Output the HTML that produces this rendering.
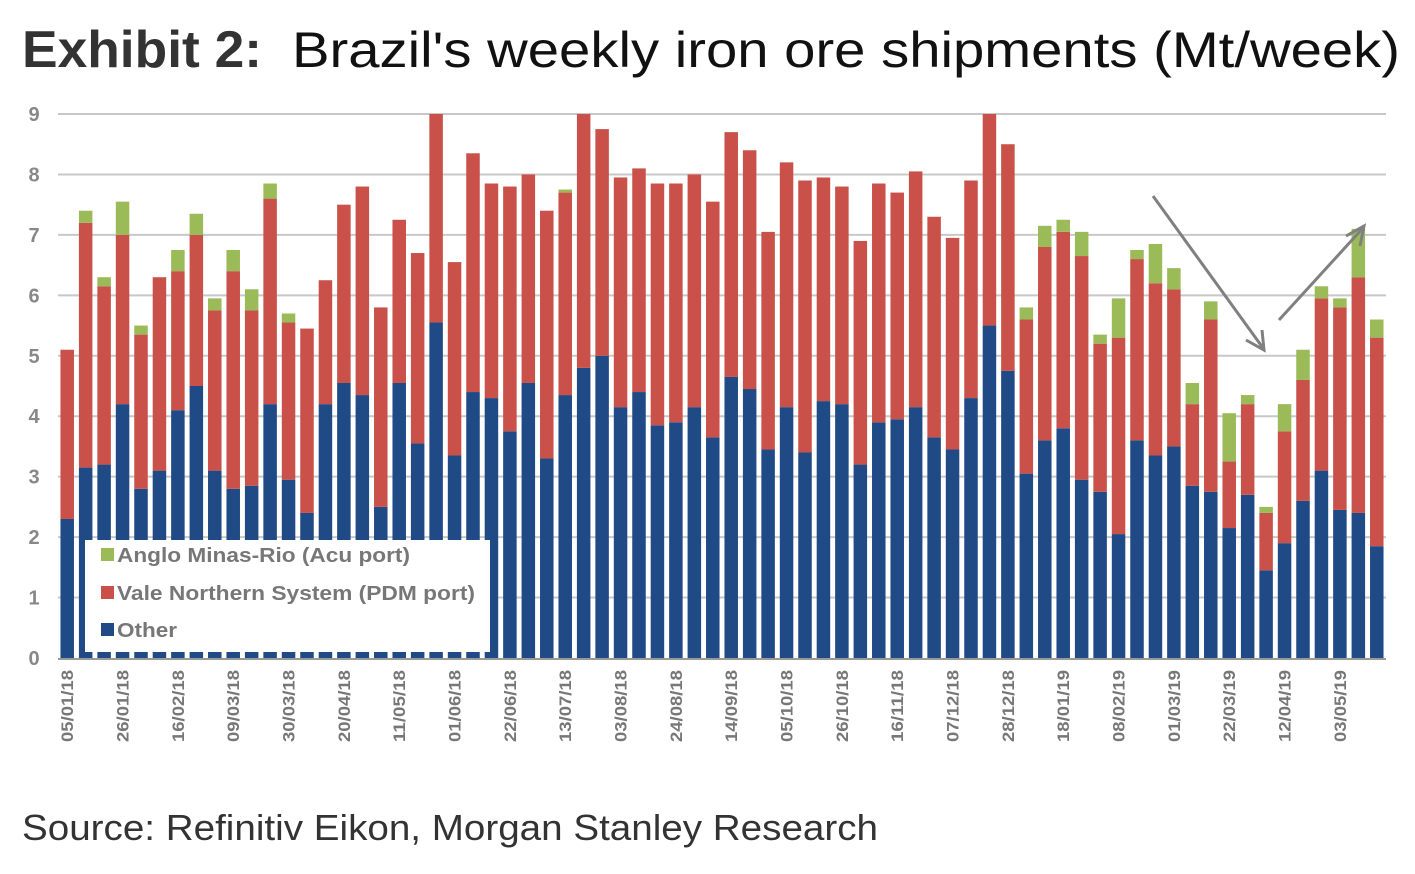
<!DOCTYPE html>
<html><head><meta charset="utf-8"><style>
body{margin:0;background:#fff;}
svg{display:block;font-family:"Liberation Sans",sans-serif;}
</style></head><body>
<svg id="chart" width="1415" height="874" viewBox="0 0 1415 874">
<text x="22" y="67" font-size="52" font-weight="bold" fill="#333" textLength="240" lengthAdjust="spacingAndGlyphs">Exhibit 2:</text>
<text x="292" y="67" font-size="50" fill="#111" textLength="1108" lengthAdjust="spacingAndGlyphs">Brazil's weekly iron ore shipments (Mt/week)</text>
<g id="grid"></g><g id="bars"></g><g id="xlabels"></g><g id="ylabels"></g>
<line x1="58" y1="659" x2="1386" y2="659" stroke="#999" stroke-width="2"/>
<g>
<rect x="85" y="540" width="405" height="112" fill="#fff"/>
<rect x="101" y="548" width="13" height="13" fill="#9bbb59"/>
<text x="117" y="562" font-size="20" font-weight="bold" fill="#777" textLength="293" lengthAdjust="spacingAndGlyphs">Anglo Minas-Rio (Acu port)</text>
<rect x="101" y="586" width="13" height="13" fill="#c9514a"/>
<text x="117" y="600" font-size="20" font-weight="bold" fill="#777" textLength="358" lengthAdjust="spacingAndGlyphs">Vale Northern System (PDM port)</text>
<rect x="101" y="623" width="13" height="13" fill="#1f4a86"/>
<text x="117" y="637" font-size="20" font-weight="bold" fill="#777" textLength="60" lengthAdjust="spacingAndGlyphs">Other</text>
</g>
<g stroke="#808080" stroke-width="3" fill="none">
<line x1="1153" y1="196" x2="1263" y2="348"/>
<polyline points="1246,340 1264,350 1262,330"/>
<line x1="1279" y1="320" x2="1363" y2="228"/>
<polyline points="1346,236 1364,226 1360,246"/>
</g>
<text x="22" y="840" font-size="36" fill="#333" textLength="856" lengthAdjust="spacingAndGlyphs">Source: Refinitiv Eikon, Morgan Stanley Research</text>
</svg>
<script>
const other=[2.3,3.15,3.2,4.2,2.8,3.1,4.1,4.5,3.1,2.8,2.85,4.2,2.95,2.4,4.2,4.55,4.35,2.5,4.55,3.55,5.55,3.35,4.4,4.3,3.75,4.55,3.3,4.35,4.8,5.0,4.15,4.4,3.85,3.9,4.15,3.65,4.65,4.45,3.45,4.15,3.4,4.25,4.2,3.2,3.9,3.95,4.15,3.65,3.45,4.3,5.5,4.75,3.05,3.6,3.8,2.95,2.75,2.05,3.6,3.35,3.5,2.85,2.75,2.15,2.7,1.45,1.9,2.6,3.1,2.45,2.4,1.85];
const vale=[2.8,4.05,2.95,2.8,2.55,3.2,2.3,2.5,2.65,3.6,2.9,3.4,2.6,3.05,2.05,2.95,3.45,3.3,2.7,3.15,3.45,3.2,3.95,3.55,4.05,3.45,4.1,3.35,4.2,3.75,3.8,3.7,4.0,3.95,3.85,3.9,4.05,3.95,3.6,4.05,4.5,3.7,3.6,3.7,3.95,3.75,3.9,3.65,3.5,3.6,3.5,3.75,2.55,3.2,3.25,3.7,2.45,3.25,3.0,2.85,2.6,1.35,2.85,1.1,1.5,0.95,1.85,2.0,2.85,3.35,3.9,3.45];
const anglo=[0,0.2,0.15,0.55,0.15,0,0.35,0.35,0.2,0.35,0.35,0.25,0.15,0,0,0,0,0,0,0,0,0,0,0,0,0,0,0.05,0,0,0,0,0,0,0,0,0,0,0,0,0,0,0,0,0,0,0,0,0,0,0,0,0.2,0.35,0.2,0.4,0.15,0.65,0.15,0.65,0.35,0.35,0.3,0.8,0.15,0.1,0.45,0.5,0.2,0.15,0.8,0.3];
const yTicks=[0,1,2,3,4,5,6,7,8,9];
const xLabels=["05/01/18","26/01/18","16/02/18","09/03/18","30/03/18","20/04/18","11/05/18","01/06/18","22/06/18","13/07/18","03/08/18","24/08/18","14/09/18","05/10/18","26/10/18","16/11/18","07/12/18","28/12/18","18/01/19","08/02/19","01/03/19","22/03/19","12/04/19","03/05/19"];
const NS="http://www.w3.org/2000/svg";
const L=58,R=1386,Y0=658,Y9=114,n=other.length,slot=(R-L)/n,bw=13.5;
const y=v=>Y0-(Y0-Y9)*v/9, xc=i=>L+slot*(i+0.5);
function mk(tag,attrs,parent){const e=document.createElementNS(NS,tag);for(const k in attrs)e.setAttribute(k,attrs[k]);parent.appendChild(e);return e;}
const G=document.getElementById('grid'),B=document.getElementById('bars'),XL=document.getElementById('xlabels'),YL=document.getElementById('ylabels');
yTicks.forEach(t=>{
  if(t>0){const g=mk('line',{x1:L,x2:R,y1:y(t),y2:y(t),stroke:'#c8c8c8','stroke-width':2},G);
  
  }
  const tx=mk('text',{x:34,y:y(t)+7,'font-size':20,'font-weight':'bold','text-anchor':'middle',fill:'#888'},YL);
  tx.textContent=t;
  
  
});
const segs=[[other,'#1f4a86','other'],[vale,'#c9514a','vale'],[anglo,'#9bbb59','anglo']];
for(let i=0;i<n;i++){
  let base=0;
  segs.forEach(([arr,c,nm])=>{
    const v=arr[i];if(v<=0)return;
    const r=mk('rect',{x:xc(i)-bw/2,y:y(base+v),width:bw,height:y(base)-y(base+v),fill:c},B);
    
    
    base+=v;
  });
}
xLabels.forEach((s,k)=>{
  const i=k*3,x=xc(i)+6;
  const t=mk('text',{x:x,y:670,'font-size':17,'font-weight':'bold','text-anchor':'end',fill:'#777',transform:'rotate(-90 '+x+' 670)',textLength:72,lengthAdjust:'spacingAndGlyphs'},XL);
  t.textContent=s;
  
  
});
</script>
</body></html>
